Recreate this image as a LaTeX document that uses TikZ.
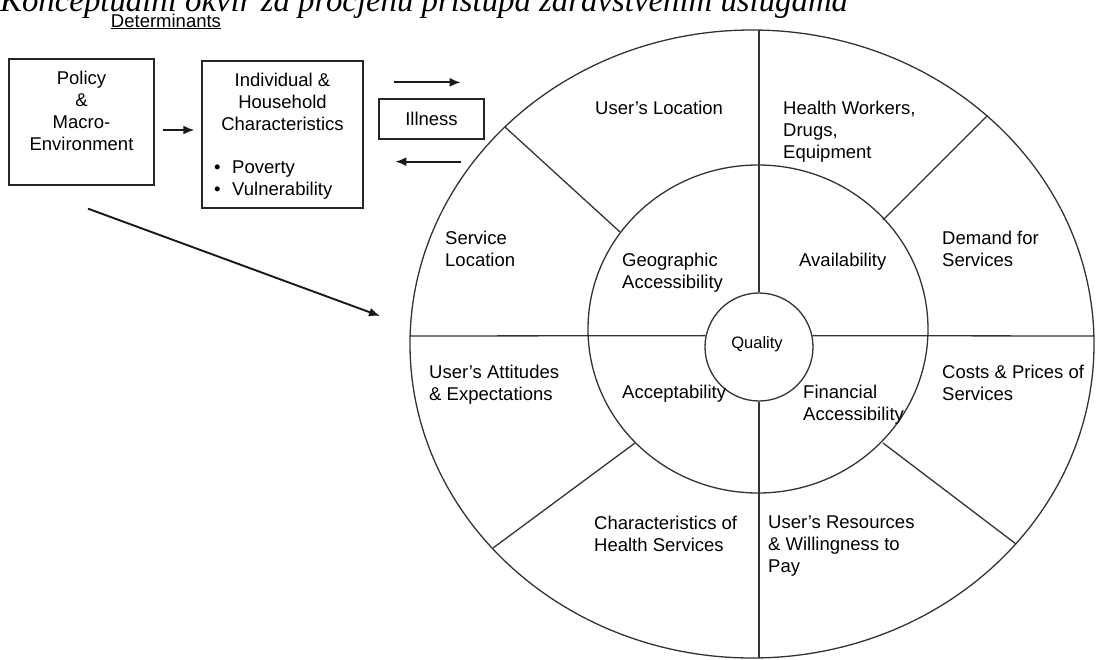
\documentclass[tikz,border=0pt]{standalone}
\usepackage{fontspec}
\setmainfont{Liberation Sans}
\newfontfamily\titlefamily{Liberation Serif}
\usetikzlibrary{arrows.meta}

\newcommand{\lblfont}{\fontsize{18.5}{22}\selectfont}
\newcommand{\qualfont}{\fontsize{16.5}{20}\selectfont}
\newcommand{\titlefont}{\titlefamily\itshape\fontsize{32.8}{38}\selectfont}

\begin{document}
\begin{tikzpicture}[x=1pt, y=-1pt,
    lbl/.style={inner sep=0, anchor=north west, align=left, font=\lblfont},
    box/.style={draw=black!85, line width=1.3pt, inner sep=0},
    ring/.style={draw=black!80, line width=1.3pt},
    arr/.style={-{Latex[length=11pt,width=9pt]}, line width=1.9pt, draw=black!90}]

  \useasboundingbox (0,0) rectangle (1097,659);
  \clip (0,0) rectangle (1097,659);

  % Title and heading
  \node[anchor=base west, inner sep=0, font=\titlefont] (title) at (0,11) {Konceptualni okvir za procjenu pristupa zdravstvenim uslugama};
  \node[anchor=base, inner sep=0, font=\lblfont] (determ) at (166,27) {\underline{Determinants}};

  % Determinant boxes
  \node[box, minimum width=145pt, minimum height=126pt] (policy) at (81.5,122) {};
  \node[lbl, anchor=north, align=center] (policytxt) at (81.5,71) {Policy\\\&\\Macro-\\Environment};
  \node[box, minimum width=161pt, minimum height=147pt] (household) at (282.5,134.5) {};
  \node[lbl, anchor=north, align=center] (householdtxt) at (282.5,73) {Individual \&\\Household\\Characteristics};
  \node[lbl] (bullets) at (214,161) {\makebox[18pt][l]{\textbullet}Poverty\\\makebox[18pt][l]{\textbullet}Vulnerability};
  \node[box, minimum width=105pt, minimum height=40pt, font=\lblfont] (illness) at (431.5,119) {Illness};

  % Arrows
  \draw[arr] ([xshift=8pt,yshift=-8pt]policy.east) -- ([xshift=-7pt,yshift=4.5pt]household.west);
  \draw[arr] ([xshift=16pt,yshift=16pt]illness.north west) -- ([xshift=-24pt,yshift=16pt]illness.north east);
  \draw[arr] ([xshift=-24pt,yshift=-22pt]illness.south east) -- ([xshift=17pt,yshift=-22pt]illness.south west);
  \coordinate (wheelin) at (380,316);
  \draw[arr] ([xshift=6.5pt,yshift=-23pt]policy.south) -- (wheelin);

  % Wheel
  \draw[ring] (752,344) ellipse [x radius=342, y radius=314];
  \draw[ring] (758,329) ellipse [x radius=170, y radius=164];
  \node[ring, circle, minimum size=108pt, inner sep=0] (quality) at (759,347) {};
  \node[inner sep=0, anchor=base, font=\qualfont] (qualitytxt) at (757,348) {Quality};

  \draw[ring] (759,30) -- (quality.north);
  \draw[ring] (quality.south) -- (759,658);
  \draw[ring] (410,336) -- (quality.168);
  \draw[ring] (quality.12) -- (1094,336);

  % Spokes
  \foreach \p/\q in {{620,232}/{505,127}, {883,220}/{987.5,115.5},
                     {635,443}/{493,548}, {883,443}/{1016,544}}
    \draw[ring] (\p) -- (\q);

  % Wheel labels
  \foreach \nm/\pos/\txt in {
      userloc/{595,101}/{User’s Location},
      workers/{783,101}/{Health Workers,\\Drugs,\\Equipment},
      servloc/{445,231}/{Service\\Location},
      geo/{622,253}/{Geographic\\Accessibility},
      avail/{799,253}/{Availability},
      demand/{942,231}/{Demand for\\Services},
      attitudes/{429,365}/{User’s Attitudes\\\& Expectations},
      accept/{622,385}/{Acceptability},
      financial/{803,385}/{Financial\\Accessibility},
      costs/{942,365}/{Costs \& Prices of\\Services},
      charact/{594,516}/{Characteristics of\\Health Services},
      resources/{768,516}/{User’s Resources\\\& Willingness to\\Pay}}
    \node[lbl] (\nm) at (\pos) {\txt};
\end{tikzpicture}
\end{document}
